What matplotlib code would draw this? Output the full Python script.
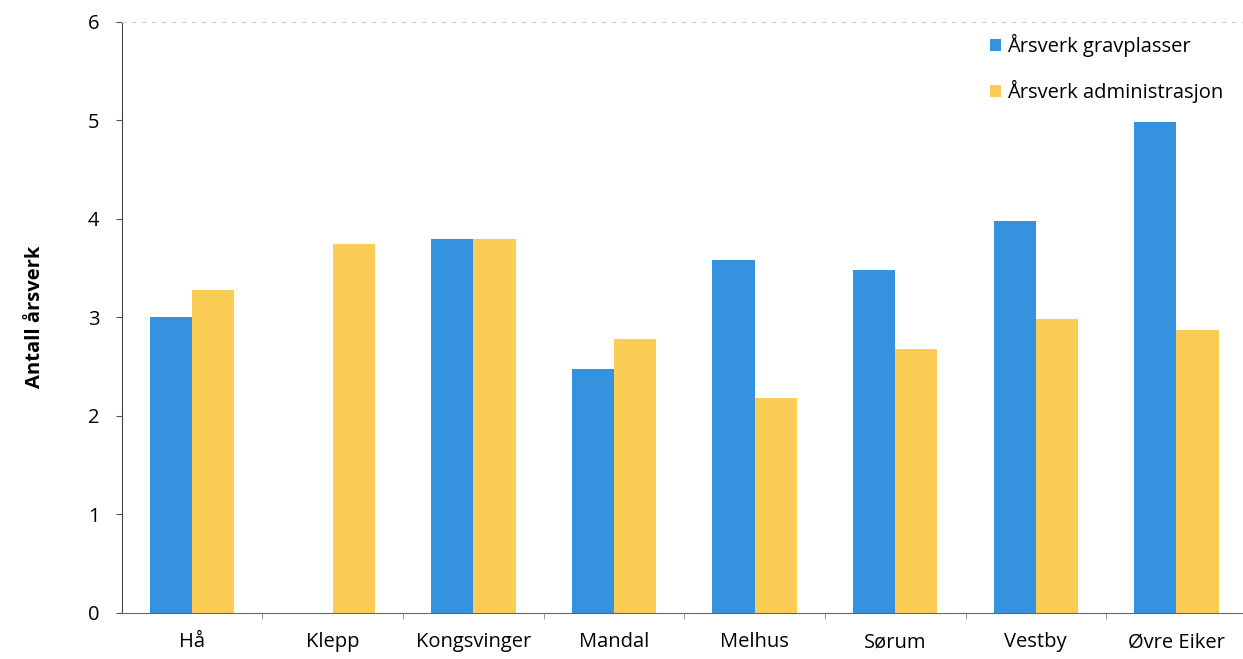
import numpy as np
import matplotlib.pyplot as plt

plt.rcParams['font.family'] = ['Open Sans', 'DejaVu Sans']

kommuner = ['Hå', 'Klepp', 'Kongsvinger', 'Mandal', 'Melhus', 'Sørum', 'Vestby', 'Øvre Eiker']
gravplasser = [3.0, 0.0, 3.79, 2.48, 3.58, 3.48, 3.98, 4.98]
administrasjon = [3.28, 3.74, 3.79, 2.78, 2.18, 2.68, 2.98, 2.87]

blaa = '#3592df'
gul = '#fbcd55'

fig = plt.figure(figsize=(12.43, 6.59), dpi=100)
ax = fig.add_axes([0.098, 0.07, 0.905, 0.897])

x = np.arange(len(kommuner))
w = 0.3
ax.bar(x - w/2, gravplasser, w, color=blaa, label='Årsverk gravplasser')
ax.bar(x + w/2, administrasjon, w, color=gul, label='Årsverk administrasjon')

ax.set_xlim(-0.5, len(kommuner) - 0.5)
ax.set_ylim(0, 6)
ax.set_yticks(range(0, 7))
ax.set_xticks(x)
ax.set_xticklabels(kommuner, fontsize=14.5)
ax.tick_params(axis='y', labelsize=14.5, length=4, color='#555555', pad=12)
ax.tick_params(axis='x', length=0, pad=14)
ax.set_xticks(np.arange(0.5, len(kommuner) - 0.5), minor=True)
ax.tick_params(axis='x', which='minor', length=4, color='#888888')

ax.set_ylabel('Antall årsverk', fontsize=14.5, fontweight='bold', labelpad=31)

ax.spines['right'].set_visible(False)
ax.spines['top'].set_color('#cccccc')
ax.spines['top'].set_linestyle((0, (3, 6)))
ax.spines['left'].set_color('#444444')
ax.spines['bottom'].set_color('#666666')

leg = ax.legend(loc='upper right', bbox_to_anchor=(0.995, 1.01), frameon=False,
                fontsize=14.5, handlelength=0.55, handleheight=0.55,
                handletextpad=0.3, labelspacing=1.15)

fig.savefig('out.png', dpi=100)
